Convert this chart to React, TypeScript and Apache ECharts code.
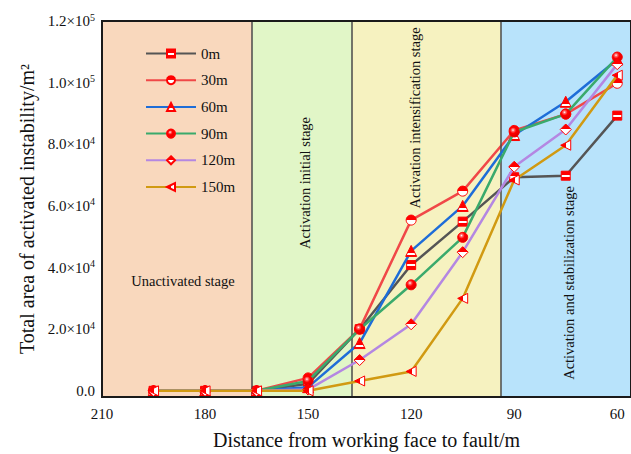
import React, { useEffect, useRef } from "react";
import * as echarts from "echarts";

// Distance from working face to fault (m)
const distances = [195, 180, 165, 150, 135, 120, 105, 90, 75, 60];

// Total activated instability area (m^2) per fault-distance case
const s0m = [0, 0, 0, 2300, 20000, 40800, 54900, 69300, 69800, 89300];
const s30m = [0, 0, 0, 4200, 20100, 55400, 64800, 84500, 89800, 99800];
const s60m = [0, 0, 0, 1200, 15500, 45400, 60000, 83000, 93800, 107500];
const s90m = [0, 0, 0, 3200, 20000, 34400, 49800, 84000, 89800, 108300];
const s120m = [0, 0, 0, 400, 10000, 21600, 45000, 72700, 84800, 106000];
const s150m = [0, 0, 0, 0, 3200, 6300, 30000, 68400, 79700, 102400];

const seriesNames = ["0m", "30m", "60m", "90m", "120m", "150m"];

// Stage extents along the distance axis
const stageNames = [
  "Unactivated stage",
  "Activation initial stage",
  "Activation intensification stage",
  "Activation and stabilization stage",
];
const stageBounds = [210, 166.3, 137.2, 93.8, 56];
const stageColors = ["#F9D8BD", "#E1F6C7", "#F6F2C0", "#B8E3FB"];

const xTicks = [210, 195, 180, 165, 150, 135, 120, 105, 90, 75, 60];
const xLabels = [210, 180, 150, 120, 90, 60];
const yTicks = [0, 10000, 20000, 30000, 40000, 50000, 60000, 70000, 80000, 90000, 100000, 110000, 120000];
const yLabels = [0, 20000, 40000, 60000, 80000, 100000, 120000];

const FONT = "'Times New Roman', 'Liberation Serif', serif";
const RED = "#FF0000";

const vGrad = (stops: [number, string][]) =>
  new echarts.graphic.LinearGradient(
    0, 0, 0, 1,
    stops.map(([offset, color]) => ({ offset, color }))
  );
const hGrad = (stops: [number, string][]) =>
  new echarts.graphic.LinearGradient(
    0, 0, 1, 0,
    stops.map(([offset, color]) => ({ offset, color }))
  );

function fmtY(v: number): string {
  if (v === 0) return "{m|0.0}";
  const exp = Math.floor(Math.log10(v) + 1e-9);
  const mant = (v / Math.pow(10, exp)).toFixed(1);
  return `{m|${mant}×10}{s|${exp}}`;
}

export default function App() {
  const ref = useRef<HTMLDivElement>(null);

  useEffect(() => {
    if (!ref.current) return;
    const chart = echarts.init(ref.current, undefined, { renderer: "svg" });

    const toPairs = (vals: number[]) => distances.map((d, i) => [d, vals[i]]);

    const styles = [
      {
        data: s0m, color: "#555555", symbol: "rect", size: 9,
        fill: vGrad([[0, RED], [0.4, RED], [0.4, "#fff"], [0.65, "#fff"], [0.65, RED], [1, RED]]),
      },
      {
        data: s30m, color: "#F04848", symbol: "circle", size: 10,
        fill: vGrad([[0, RED], [0.5, RED], [0.5, "#fff"], [1, "#fff"]]),
      },
      {
        data: s60m, color: "#1E6DD8", symbol: "triangle", size: 11,
        fill: vGrad([[0, RED], [0.68, RED], [0.68, "#fff"], [0.88, "#fff"], [0.88, RED], [1, RED]]),
      },
      {
        data: s90m, color: "#3AAA6C", symbol: "circle", size: 10,
        fill: new echarts.graphic.RadialGradient(0.38, 0.32, 0.7, [
          { offset: 0, color: "#ffffff" },
          { offset: 0.18, color: "#ff7070" },
          { offset: 0.45, color: RED },
          { offset: 1, color: "#d80000" },
        ]),
      },
      {
        data: s120m, color: "#B487E2", symbol: "diamond", size: 11,
        fill: vGrad([[0, RED], [0.5, RED], [0.5, "#fff"], [1, "#fff"]]),
      },
      {
        data: s150m, color: "#D19A12", symbol: "path://M0,5 L10,0 L10,10 Z", size: 10,
        fill: hGrad([[0, RED], [0.55, RED], [0.55, "#fff"], [1, "#fff"]]),
      },
    ];

    const dataSeries = styles.map((s, i) => ({
      name: seriesNames[i],
      type: "line",
      data: toPairs(s.data),
      symbol: s.symbol,
      symbolSize: s.size,
      showAllSymbol: true,
      z: 3 + i,
      lineStyle: { color: s.color, width: 2.5 },
      itemStyle: { color: s.fill, borderColor: RED, borderWidth: 1 },
      emphasis: { disabled: true },
    }));

    const stageAreas = stageColors.map((c, i) => [
      { xAxis: stageBounds[i], itemStyle: { color: c, opacity: 1 } },
      { xAxis: stageBounds[i + 1] },
    ]);

    const backgroundSeries = {
      name: "stages",
      type: "line",
      data: [],
      silent: true,
      z: 1,
      markArea: {
        silent: true,
        label: { show: false },
        data: stageAreas,
      },
      markLine: {
        silent: true,
        symbol: "none",
        label: { show: false },
        lineStyle: { color: "#4a4a4a", width: 1.5, type: "solid" },
        data: stageBounds.slice(1, 4).map((b) => ({ xAxis: b })),
      },
    };

    const labelText = (text: string, x: number, y: number, rotate: boolean) => ({
      type: "text",
      x,
      y,
      rotation: rotate ? Math.PI / 2 : 0,
      z: 20,
      style: {
        text,
        fill: "#111",
        font: `14.5px ${FONT}`,
        textAlign: "center",
        textVerticalAlign: "middle",
      },
    });

    chart.setOption({
      animation: false,
      backgroundColor: "#ffffff",
      textStyle: { fontFamily: FONT },
      grid: {
        left: 102,
        top: 21,
        right: 0,
        bottom: 57,
        outerBoundsMode: "none",
        containLabel: false,
        show: true,
        borderColor: "#1a1a1a",
        borderWidth: 2,
        backgroundColor: "transparent",
        z: 10,
      },
      legend: {
        data: seriesNames,
        orient: "vertical",
        left: 140,
        top: 41,
        itemWidth: 50,
        itemHeight: 10,
        itemGap: 11.7,
        selectedMode: false,
        textStyle: { fontFamily: FONT, fontSize: 15, color: "#111" },
      },
      xAxis: {
        type: "value",
        inverse: true,
        min: 56,
        max: 210,
        name: "Distance from working face to fault/m",
        nameLocation: "middle",
        nameGap: 33,
        nameTextStyle: { fontFamily: FONT, fontSize: 20, color: "#111" },
        axisLine: { show: true, onZero: false, lineStyle: { color: "#000", width: 2 } },
        axisTick: {
          show: true,
          inside: true,
          length: 5,
          customValues: xTicks,
          lineStyle: { color: "#000", width: 1.5 },
        },
        axisLabel: {
          customValues: xLabels,
          fontFamily: FONT,
          fontSize: 15,
          color: "#111",
          margin: 9,
        },
        splitLine: { show: false },
      },
      yAxis: {
        type: "value",
        min: -2000,
        max: 120000,
        name: "Total area of activated instability/m²",
        nameLocation: "middle",
        nameGap: 63,
        nameTextStyle: { fontFamily: FONT, fontSize: 20, color: "#111" },
        axisLine: { show: true, onZero: false, lineStyle: { color: "#000", width: 2 } },
        axisTick: {
          show: true,
          inside: true,
          length: 5,
          customValues: yTicks,
          lineStyle: { color: "#000", width: 1.5 },
        },
        axisLabel: {
          customValues: yLabels,
          formatter: (v: number) => fmtY(v),
          margin: 7,
          rich: {
            m: { fontFamily: FONT, fontSize: 15, color: "#111" },
            s: {
              fontFamily: FONT,
              fontSize: 10,
              color: "#111",
              verticalAlign: "bottom",
              padding: [0, 0, 8, 0],
            },
          },
        },
        splitLine: { show: false },
      },
      graphic: [
        labelText(stageNames[0], 183, 281, false),
        labelText(stageNames[1], 305, 183, true),
        labelText(stageNames[2], 415, 118, true),
        labelText(stageNames[3], 569, 283, true),
      ],
      series: [backgroundSeries, ...dataSeries],
    });

    return () => chart.dispose();
  }, []);

  return (
    <div
      ref={ref}
      style={{ position: "fixed", left: 0, top: 0, width: 631, height: 454 }}
    />
  );
}
